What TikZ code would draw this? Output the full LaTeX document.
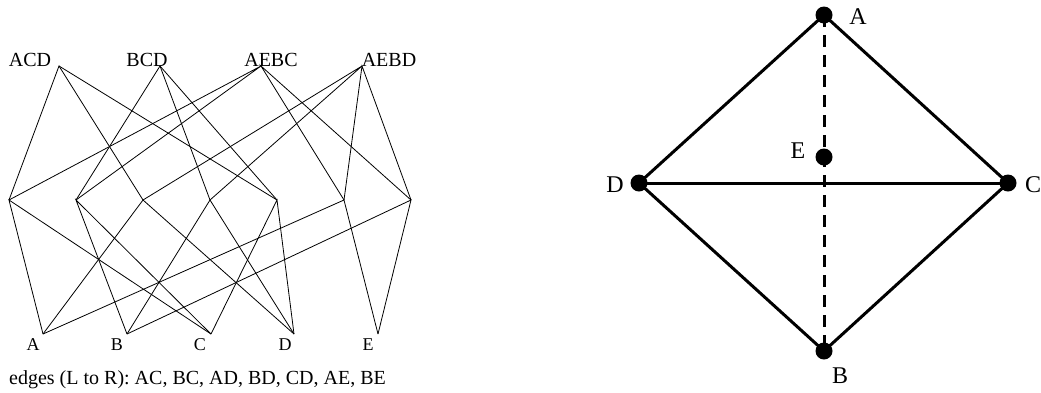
\documentclass[tikz,border=0pt]{standalone}
\usepackage{fontspec}
\setmainfont{Liberation Serif}
\usepackage{tikz}

\tikzset{
	lat/.style={line width=0.8pt},
	latlabel/.style={inner sep=0pt,anchor=base,font=\fontsize{20}{24}\selectfont},
	vlabel/.style={inner sep=0pt,anchor=base,font=\fontsize{18}{22}\selectfont},
	pt/.style={circle,fill=black,inner sep=0pt,minimum size=17pt},
	ptlabel/.style={inner sep=0pt,anchor=base,font=\fontsize{24}{28}\selectfont},
	solidedge/.style={line width=3pt},
	hidden/.style={line width=3pt,dash pattern=on 12pt off 8pt}
}

\begin{document}
\begin{tikzpicture}[x=1pt,y=-1pt]
	\useasboundingbox (0,0) rectangle (1041,392);

	% faces (top row)
	\coordinate (fACD) at (59,66);
	\coordinate (fBCD) at (160,66);
	\coordinate (fAEBC) at (261,66);
	\coordinate (fAEBD) at (362,66);
	\node[latlabel] at (30,66) {ACD};
	\node[latlabel] at (147,66) {BCD};
	\node[latlabel] at (271,66) {AEBC};
	\node[latlabel] at (389,66) {AEBD};

	% edges (middle row)
	\coordinate (eAC) at (9,200);
	\coordinate (eBC) at (76,200);
	\coordinate (eAD) at (143,200);
	\coordinate (eBD) at (210,200);
	\coordinate (eCD) at (277,200);
	\coordinate (eAE) at (344,200);
	\coordinate (eBE) at (411,200);

	% vertices (bottom row)
	\coordinate (vA) at (43,334);
	\coordinate (vB) at (127,334);
	\coordinate (vC) at (211,334);
	\coordinate (vD) at (294,334);
	\coordinate (vE) at (378,334);
	\node[vlabel] at (33,350) {A};
	\node[vlabel] at (117,350) {B};
	\node[vlabel] at (200,350) {C};
	\node[vlabel] at (285,350) {D};
	\node[vlabel] at (368,350) {E};

	% faces to edges
	\draw[lat] (eAC)--(fACD)--(eAD);
	\draw[lat] (fACD)--(eCD);
	\draw[lat] (eBC)--(fBCD)--(eBD);
	\draw[lat] (fBCD)--(eCD);
	\draw[lat] (eAC)--(fAEBC)--(eBC);
	\draw[lat] (eAE)--(fAEBC)--(eBE);
	\draw[lat] (eAD)--(fAEBD)--(eBD);
	\draw[lat] (eAE)--(fAEBD)--(eBE);

	% edges to vertices
	\draw[lat] (vA)--(eAC)--(vC);
	\draw[lat] (vB)--(eBC)--(vC);
	\draw[lat] (vA)--(eAD)--(vD);
	\draw[lat] (vB)--(eBD)--(vD);
	\draw[lat] (vC)--(eCD)--(vD);
	\draw[lat] (vA)--(eAE)--(vE);
	\draw[lat] (vB)--(eBE)--(vE);

	\node[inner sep=0pt,anchor=base west,font=\fontsize{20}{24}\selectfont] (caption) at (9,384) {edges (L to R): AC, BC, AD, BD, CD, AE, BE};

	% the solid
	\node[pt] (A) at (824,15) {};
	\node[pt] (B) at (824,351) {};
	\node[pt] (C) at (1008,183) {};
	\node[pt] (D) at (639,183) {};
	\node[pt] (E) at (824,157) {};
	\draw[hidden] (A.center)--(B.center);
	\draw[solidedge] (A.center)--(C.center)--(B.center)--(D.center)--cycle;
	\draw[solidedge] (D.center)--(C.center);
	\node[ptlabel] at (858,24) {A};
	\node[ptlabel] at (840,383) {B};
	\node[ptlabel] at (1033,192) {C};
	\node[ptlabel] at (615,192) {D};
	\node[ptlabel] at (798,158) {E};
\end{tikzpicture}
\end{document}
